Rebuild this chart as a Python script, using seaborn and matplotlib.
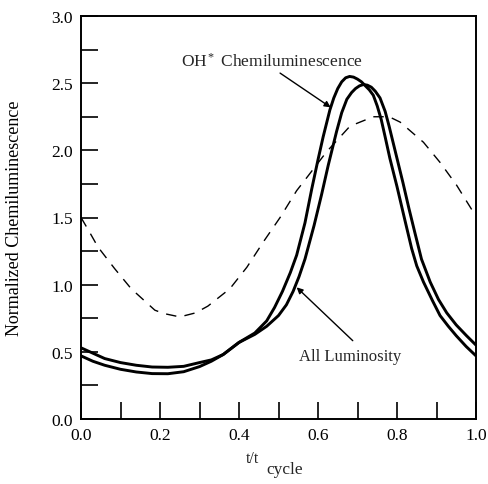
import matplotlib
matplotlib.use("Agg")
import matplotlib.pyplot as plt
import seaborn as sns
import pandas as pd

# ---- data ----
oh_x = [0.00, 0.03, 0.06, 0.10, 0.14, 0.18, 0.22, 0.26, 0.30, 0.33, 0.36, 0.40,
        0.44, 0.47, 0.49, 0.51, 0.53, 0.546, 0.567, 0.584, 0.60, 0.613, 0.63,
        0.64, 0.65, 0.66, 0.67, 0.68, 0.69, 0.70, 0.71, 0.72, 0.73, 0.74, 0.75,
        0.76, 0.77, 0.782, 0.80, 0.82, 0.837, 0.85, 0.867, 0.89, 0.909, 0.93,
        0.95, 0.975, 1.00]
oh_y = [0.47, 0.43, 0.40, 0.37, 0.35, 0.338, 0.337, 0.352, 0.39, 0.43, 0.48, 0.57,
        0.64, 0.73, 0.83, 0.95, 1.09, 1.22, 1.46, 1.71, 1.93, 2.10, 2.30,
        2.39, 2.46, 2.51, 2.54, 2.55, 2.545, 2.53, 2.51, 2.48, 2.45, 2.41, 2.33,
        2.23, 2.10, 1.94, 1.73, 1.48, 1.27, 1.14, 1.02, 0.88, 0.77, 0.69,
        0.62, 0.54, 0.47]

all_x = [0.00, 0.03, 0.06, 0.10, 0.14, 0.18, 0.22, 0.26, 0.30, 0.33, 0.36, 0.40,
         0.44, 0.47, 0.50, 0.52, 0.537, 0.552, 0.567, 0.59, 0.609, 0.626, 0.647,
         0.66, 0.673, 0.685, 0.695, 0.705, 0.715, 0.725, 0.735, 0.745, 0.757,
         0.77, 0.78, 0.79, 0.80, 0.815, 0.83, 0.845, 0.862, 0.884, 0.905, 0.926,
         0.95, 0.976, 1.00]
all_y = [0.53, 0.49, 0.45, 0.42, 0.40, 0.387, 0.385, 0.392, 0.42, 0.44, 0.48, 0.57,
         0.63, 0.69, 0.77, 0.85, 0.95, 1.06, 1.19, 1.44, 1.67, 1.89, 2.14,
         2.28, 2.38, 2.43, 2.46, 2.48, 2.49, 2.485, 2.47, 2.44, 2.39,
         2.29, 2.18, 2.06, 1.94, 1.76, 1.57, 1.39, 1.19, 1.02, 0.89, 0.79,
         0.70, 0.62, 0.55]

dash_x = [0.00, 0.018, 0.043, 0.085, 0.127, 0.187, 0.21, 0.25, 0.29, 0.321, 0.377,
          0.42, 0.462, 0.504, 0.546, 0.575, 0.622, 0.681, 0.74, 0.78, 0.808,
          0.867, 0.909, 0.951, 0.989, 1.00]
dash_y = [1.50, 1.41, 1.28, 1.12, 0.97, 0.81, 0.785, 0.76, 0.79, 0.84, 0.97,
          1.13, 1.32, 1.50, 1.70, 1.81, 1.99, 2.18, 2.25, 2.25, 2.21,
          2.06, 1.91, 1.74, 1.56, 1.52]

x_ticks = [0.0, 0.2, 0.4, 0.6, 0.8, 1.0]
x_minor = [0.1, 0.3, 0.5, 0.7, 0.9]
y_ticks = [0.0, 0.5, 1.0, 1.5, 2.0, 2.5, 3.0]
y_minor = [0.25, 0.75, 1.25, 1.75, 2.25, 2.75]

sns.set_style("white")
plt.rcParams["font.family"] = ["Liberation Serif", "DejaVu Serif"]
plt.rcParams["mathtext.fontset"] = "custom"
plt.rcParams["mathtext.rm"] = "Liberation Serif"
plt.rcParams["mathtext.it"] = "Liberation Serif:italic"

fig = plt.figure(figsize=(4.88, 4.85), dpi=100)
ax = fig.add_axes([81 / 488, 1 - 420 / 485, 395 / 488, 403 / 485])

df_oh = pd.DataFrame({"x": oh_x, "y": oh_y})
df_all = pd.DataFrame({"x": all_x, "y": all_y})
df_dash = pd.DataFrame({"x": dash_x, "y": dash_y})

sns.lineplot(data=df_oh, x="x", y="y", ax=ax, color="black", lw=2.1,
             estimator=None, solid_joinstyle="round")
sns.lineplot(data=df_all, x="x", y="y", ax=ax, color="black", lw=2.1,
             estimator=None, solid_joinstyle="round")
sns.lineplot(data=df_dash, x="x", y="y", ax=ax, color="black", lw=1.0,
             linestyle=(0, (7.5, 6)), estimator=None)

ax.set_xlim(0, 1)
ax.set_ylim(0, 3)
ax.set_xticks(x_ticks)
ax.set_xticks(x_minor, minor=True)
ax.set_yticks(y_ticks)
ax.set_yticks(y_minor, minor=True)
ax.set_xticklabels([f"{v:.1f}" for v in x_ticks])
ax.set_yticklabels([f"{v:.1f}" for v in y_ticks])
ax.tick_params(which="both", direction="in", length=12, width=1.2, color="black",
               top=False, right=False, bottom=True, left=True)
ax.tick_params(which="major", labelsize=12.5, pad=6, labelcolor="black")

for s in ax.spines.values():
    s.set_visible(True)
    s.set_color("black")
    s.set_linewidth(1.4)

ax.set_xlabel("")
ax.set_ylabel("Normalized Chemiluminescence", fontsize=13, color="black")
ax.yaxis.set_label_coords(-0.147, 0.5)

# x label: t/t with "cycle" subscripted
fig.text(252 / 488, 1 - 459 / 485, "t/t", fontsize=11.5, ha="center", va="center")
fig.text(285 / 488, 1 - 470 / 485, "cycle", fontsize=12.5, ha="center", va="center")

ax.text(0.484, 2.665, "OH$^*$ Chemiluminescence", fontsize=12.5,
        ha="center", va="center")
ax.annotate("", xy=(0.632, 2.32), xytext=(0.504, 2.575),
            arrowprops=dict(arrowstyle="-|>", color="black", lw=1.0,
                            mutation_scale=9, shrinkA=0, shrinkB=0))
ax.text(0.682, 0.469, "All Luminosity", fontsize=12, ha="center", va="center")
ax.annotate("", xy=(0.546, 0.98), xytext=(0.688, 0.583),
            arrowprops=dict(arrowstyle="-|>", color="black", lw=1.0,
                            mutation_scale=9, shrinkA=0, shrinkB=0))

fig.savefig("out.png", dpi=100)
